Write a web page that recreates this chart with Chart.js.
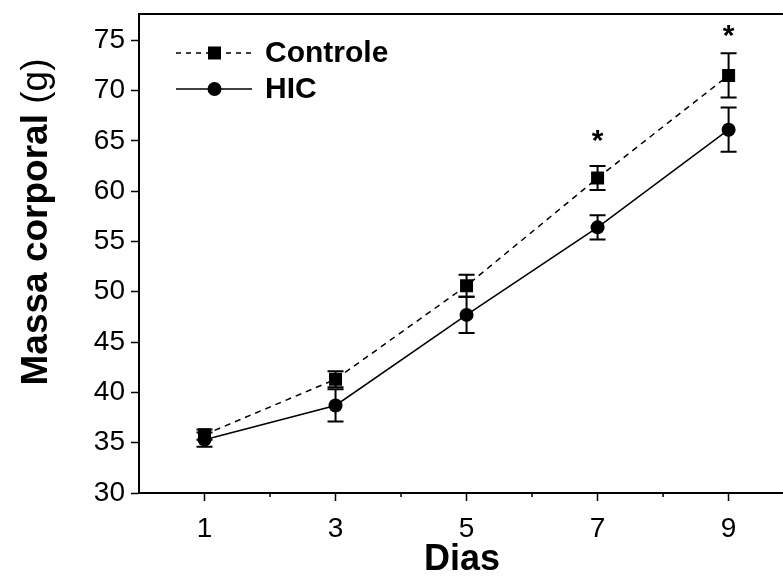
<!DOCTYPE html>
<html>
<head>
<meta charset="utf-8">
<script src="https://cdn.jsdelivr.net/npm/chart.js@4/dist/chart.umd.min.js"></script>
<style>
  html, body { margin: 0; padding: 0; background: #fff; overflow: hidden; }
  #wrap { width: 783px; height: 576px; }
</style>
</head>
<body>
<div id="wrap"><canvas id="massChart" width="783" height="576"></canvas></div>
<script>
const days = [1, 3, 5, 7, 9];
const minorDays = [2, 4, 6, 8];
const controle = [35.8, 41.3, 50.6, 61.3, 71.5];
const controleErr = [0.5, 0.8, 1.1, 1.2, 2.2];
const hic = [35.3, 38.7, 47.7, 56.4, 66.1];
const hicErr = [0.7, 1.6, 1.8, 1.2, 2.2];
const starDays = [7, 9];
const starLevels = [65.3, 75.7];
const yTicks = [30, 35, 40, 45, 50, 55, 60, 65, 70, 75];

const FONT = "'Liberation Sans', Arial, sans-serif";

function toPoints(vals) {
  return days.map((d, i) => ({ x: d, y: vals[i] }));
}

const errorBars = {
  id: "errorBars",
  beforeDatasetsDraw(chart) {
    const ctx = chart.ctx;
    const xs = chart.scales.x;
    const ys = chart.scales.y;
    const sets = [[controle, controleErr], [hic, hicErr]];
    ctx.save();
    ctx.strokeStyle = "#000";
    ctx.lineWidth = 2;
    sets.forEach(([vals, errs]) => {
      vals.forEach((v, i) => {
        const px = xs.getPixelForValue(days[i]);
        const top = ys.getPixelForValue(v + errs[i]);
        const bot = ys.getPixelForValue(v - errs[i]);
        ctx.beginPath();
        ctx.moveTo(px, top);
        ctx.lineTo(px, bot);
        ctx.moveTo(px - 8, top);
        ctx.lineTo(px + 8, top);
        ctx.moveTo(px - 8, bot);
        ctx.lineTo(px + 8, bot);
        ctx.stroke();
      });
    });
    ctx.restore();
  },
};

const decorations = {
  id: "decorations",
  afterDraw(chart) {
    const ctx = chart.ctx;
    const area = chart.chartArea;
    const xs = chart.scales.x;
    const ys = chart.scales.y;
    ctx.save();

    // frame: top line and bottom line run off the right edge
    ctx.strokeStyle = "#000";
    ctx.lineWidth = 2;
    ctx.beginPath();
    ctx.moveTo(area.left, area.top);
    ctx.lineTo(chart.width, area.top);
    ctx.moveTo(area.left, area.bottom);
    ctx.lineTo(chart.width, area.bottom);
    ctx.stroke();

    // minor x ticks
    ctx.lineWidth = 1.5;
    minorDays.forEach((d) => {
      const px = xs.getPixelForValue(d);
      ctx.beginPath();
      ctx.moveTo(px, area.bottom);
      ctx.lineTo(px, area.bottom + 4);
      ctx.stroke();
    });

    // significance stars
    ctx.fillStyle = "#000";
    ctx.font = "bold 30px " + FONT;
    ctx.textAlign = "center";
    ctx.textBaseline = "middle";
    starDays.forEach((d, i) => {
      ctx.fillText("*", xs.getPixelForValue(d), ys.getPixelForValue(starLevels[i]) + 4);
    });

    // legend
    const rows = [
      { label: "Controle", y: 53, dash: [5, 5], marker: "rect" },
      { label: "HIC", y: 89, dash: [], marker: "circle" },
    ];
    rows.forEach((r) => {
      ctx.lineWidth = 1.5;
      ctx.setLineDash(r.dash);
      ctx.beginPath();
      ctx.moveTo(176, r.y);
      ctx.lineTo(252, r.y);
      ctx.stroke();
      ctx.setLineDash([]);
      ctx.beginPath();
      if (r.marker === "rect") {
        ctx.rect(208, r.y - 6.5, 13, 13);
      } else {
        ctx.arc(214.5, r.y, 7, 0, Math.PI * 2);
      }
      ctx.fill();
      ctx.font = "bold 30px " + FONT;
      ctx.textAlign = "left";
      ctx.textBaseline = "middle";
      ctx.fillText(r.label, 265, r.y + 1);
    });

    // axis titles
    ctx.textBaseline = "alphabetic";
    ctx.textAlign = "center";
    ctx.font = "bold 36px " + FONT;
    ctx.fillText("Dias", 462, 570);

    ctx.translate(47, 222);
    ctx.rotate(-Math.PI / 2);
    const boldPart = "Massa corporal ";
    const normalPart = "(g)";
    ctx.font = "bold 37px " + FONT;
    const w1 = ctx.measureText(boldPart).width;
    ctx.font = "37px " + FONT;
    const w2 = ctx.measureText(normalPart).width;
    const start = -(w1 + w2) / 2;
    ctx.textAlign = "left";
    ctx.font = "bold 37px " + FONT;
    ctx.fillText(boldPart, start, 0);
    ctx.font = "37px " + FONT;
    ctx.fillText(normalPart, start + w1, 0);

    ctx.restore();
  },
};

const config = {
  type: "line",
  data: {
    datasets: [
      {
        label: "Controle",
        data: toPoints(controle),
        borderColor: "#000",
        backgroundColor: "#000",
        borderWidth: 1.5,
        borderDash: [6, 5],
        pointStyle: "rect",
        pointRadius: 9.2,
        pointBorderWidth: 0,
        fill: false,
      },
      {
        label: "HIC",
        data: toPoints(hic),
        borderColor: "#000",
        backgroundColor: "#000",
        borderWidth: 1.5,
        pointStyle: "circle",
        pointRadius: 7,
        pointBorderWidth: 0,
        fill: false,
      },
    ],
  },
  options: {
    responsive: false,
    animation: false,
    devicePixelRatio: 1,
    layout: { padding: { left: 0, top: 14, right: 0, bottom: 0 } },
    plugins: {
      legend: { display: false },
      tooltip: { enabled: false },
    },
    scales: {
      x: {
        type: "linear",
        min: 0,
        max: 9.69,
        afterBuildTicks: (scale) => {
          scale.ticks = days.map((d) => ({ value: d }));
        },
        afterFit: (scale) => {
          scale.height = 83;
        },
        ticks: {
          color: "#000",
          font: { family: FONT, size: 28 },
          padding: 11,
          maxRotation: 0,
        },
        grid: { drawOnChartArea: false, tickLength: 8, tickColor: "#000", tickWidth: 1.5 },
        border: { color: "#000", width: 2 },
      },
      y: {
        min: 30,
        max: 77.6,
        afterBuildTicks: (scale) => {
          scale.ticks = yTicks.map((v) => ({ value: v }));
        },
        afterFit: (scale) => {
          scale.width = 139;
          scale.paddingTop = 0;
          scale.paddingBottom = 0;
        },
        ticks: {
          color: "#000",
          font: { family: FONT, size: 28 },
          padding: 6,
        },
        grid: { drawOnChartArea: false, tickLength: 8, tickColor: "#000", tickWidth: 1.5 },
        border: { color: "#000", width: 2 },
      },
    },
  },
  plugins: [errorBars, decorations],
};

new Chart(document.getElementById("massChart"), config);
</script>
</body>
</html>
